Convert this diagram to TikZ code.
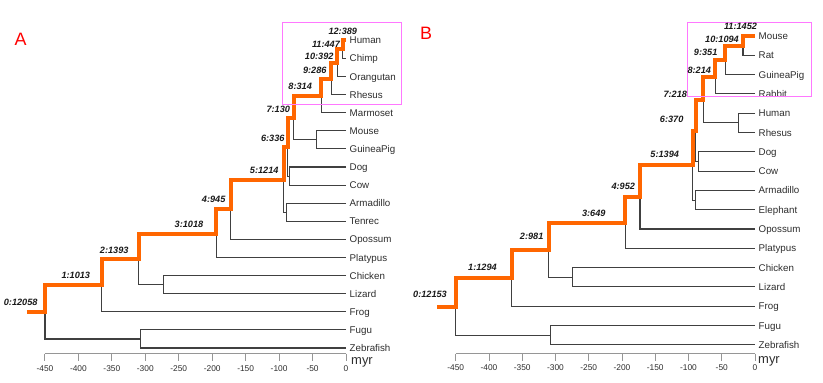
\documentclass[tikz,border=0pt]{standalone}
\usepackage{fontspec}
\setmainfont{Liberation Sans}
\definecolor{linegray}{RGB}{64,64,64}
\definecolor{axisgray}{RGB}{150,150,150}
\definecolor{hlorange}{RGB}{255,102,0}
\definecolor{leafgray}{RGB}{45,45,45}
\definecolor{boxpink}{RGB}{255,120,255}
\tikzset{
  br/.style={draw=linegray, line width=1.1bp},
  hl/.style={draw=hlorange, line width=4bp, line join=miter},
  axisline/.style={draw=axisgray, line width=1bp},
  leaf/.style={anchor=base west, inner sep=0pt, xshift=3.5bp, yshift=-3.5bp, text=leafgray, font=\fontsize{9.8}{11}\selectfont},
  nlab/.style={inner sep=0pt, text=black!90, font=\fontsize{9.2}{11}\selectfont\bfseries\itshape},
  ticklab/.style={inner sep=0pt, text=leafgray, font=\fontsize{8.4}{10}\selectfont},
  myrlab/.style={inner sep=0pt, text=leafgray, font=\fontsize{13}{15}\selectfont},
  panel/.style={inner sep=0pt, text=red, font=\fontsize{18}{20}\selectfont},
  hbox/.style={draw=boxpink, line width=1bp}
}
\newcommand\myleaf[3]{\coordinate (#1) at (0,#2); \node[leaf] (#1-t) at (#1) {#3};}
\newcommand\myclade[3]{\draw[br] (#2) -| (#1) |- (#3);}
\begin{document}
\begin{tikzpicture}[x=1bp,y=-1bp]
\useasboundingbox (0,0) rectangle (823,382);
% ================= Panel A =================
\begin{scope}[xshift=346bp, x=0.669bp]
\myleaf{A-Human}{40.3}{Human}
\myleaf{A-Chimp}{58.4}{Chimp}
\myleaf{A-Orangutan}{76.5}{Orangutan}
\myleaf{A-Rhesus}{94.6}{Rhesus}
\myleaf{A-Marmoset}{112.7}{Marmoset}
\myleaf{A-Mouse}{130.8}{Mouse}
\myleaf{A-GuineaPig}{148.9}{GuineaPig}
\myleaf{A-Dog}{167.0}{Dog}
\myleaf{A-Cow}{185.1}{Cow}
\myleaf{A-Armadillo}{203.2}{Armadillo}
\myleaf{A-Tenrec}{221.3}{Tenrec}
\myleaf{A-Opossum}{239.4}{Opossum}
\myleaf{A-Platypus}{257.5}{Platypus}
\myleaf{A-Chicken}{275.6}{Chicken}
\myleaf{A-Lizard}{293.7}{Lizard}
\myleaf{A-Frog}{311.8}{Frog}
\myleaf{A-Fugu}{329.9}{Fugu}
\myleaf{A-Zebrafish}{348.0}{Zebrafish}
\coordinate (A-n11) at (-5,49.35);
\coordinate (A-n10) at (-13,62.93);
\coordinate (A-n9) at (-22,78.76);
\coordinate (A-n8) at (-37,95.73);
\coordinate (A-MG) at (-44,139.85);
\coordinate (A-n7) at (-78,117.79);
\coordinate (A-DC) at (-84,176.05);
\coordinate (A-n6) at (-87,146.92);
\coordinate (A-AT) at (-89,212.25);
\coordinate (A-n5) at (-93,179.59);
\coordinate (A-n4) at (-172,209.49);
\coordinate (A-n3) at (-194,233.5);
\coordinate (A-CL) at (-273,284.65);
\coordinate (A-n2) at (-310,259.08);
\coordinate (A-n1) at (-365,285.44);
\coordinate (A-FZ) at (-307,338.95);
\coordinate (A-n0) at (-450,312.2);
\coordinate (A-stub) at (-477,312.2);
\myclade{A-n11}{A-Human}{A-Chimp}
\myclade{A-n10}{A-n11}{A-Orangutan}
\myclade{A-n9}{A-n10}{A-Rhesus}
\myclade{A-n8}{A-n9}{A-Marmoset}
\myclade{A-MG}{A-Mouse}{A-GuineaPig}
\myclade{A-n7}{A-n8}{A-MG}
\myclade{A-DC}{A-Dog}{A-Cow}
\myclade{A-n6}{A-n7}{A-DC}
\myclade{A-AT}{A-Armadillo}{A-Tenrec}
\myclade{A-n5}{A-n6}{A-AT}
\myclade{A-n4}{A-n5}{A-Opossum}
\myclade{A-n3}{A-n4}{A-Platypus}
\myclade{A-CL}{A-Chicken}{A-Lizard}
\myclade{A-n2}{A-n3}{A-CL}
\myclade{A-n1}{A-n2}{A-Frog}
\myclade{A-FZ}{A-Fugu}{A-Zebrafish}
\myclade{A-n0}{A-n1}{A-FZ}
\draw[hl] (A-stub) -- (A-n0) |- (A-n1) |- (A-n2) |- (A-n3) |- (A-n4) |- (A-n5) |- (A-n6) |- (A-n7) |- (A-n8) |- (A-n9) |- (A-n10) |- (A-n11) |- (A-Human);
% axis
\coordinate (A-ax0) at (-450,353.5);
\coordinate (A-ax1) at (0,353.5);
\draw[axisline] (A-ax0) -- (A-ax1);
\foreach \t [count=\i] in {-450,-400,...,0}{
  \draw[axisline] (\t,353.5) -- (\t,361);
  \node[ticklab] (A-tick\i) at (\t,368.3) {\t};
}
\end{scope}
\node[myrlab] (A-myr) at (362,362.5) {myr};
\node[panel] (A-title) at (20.5,39.5) {A};
\draw[hbox] (282.7,22.3) rectangle (401.7,104.3);
\node[nlab] (A-l0) at (20.7,302.7) {0:12058};
\node[nlab] (A-l1) at (75.8,275) {1:1013};
\node[nlab] (A-l2) at (114.2,250.3) {2:1393};
\node[nlab] (A-l3) at (189,224.3) {3:1018};
\node[nlab] (A-l4) at (213.7,199.3) {4:945};
\node[nlab] (A-l5) at (264.2,170) {5:1214};
\node[nlab] (A-l6) at (272.8,138.3) {6:336};
\node[nlab] (A-l7) at (278.3,109) {7:130};
\node[nlab] (A-l8) at (300.2,86.7) {8:314};
\node[nlab] (A-l9) at (314.8,70.7) {9:286};
\node[nlab] (A-l10) at (319.2,56.7) {10:392};
\node[nlab] (A-l11) at (326,44.3) {11:447};
\node[nlab] (A-l12) at (342.8,31) {12:389};
% ================= Panel B =================
\begin{scope}[xshift=755bp, x=0.665bp]
\myleaf{B-Mouse}{36}{Mouse}
\myleaf{B-Rat}{55.3}{Rat}
\myleaf{B-GuineaPig}{74.6}{GuineaPig}
\myleaf{B-Rabbit}{93.9}{Rabbit}
\myleaf{B-Human}{113.2}{Human}
\myleaf{B-Rhesus}{132.5}{Rhesus}
\myleaf{B-Dog}{151.8}{Dog}
\myleaf{B-Cow}{171.1}{Cow}
\myleaf{B-Armadillo}{190.4}{Armadillo}
\myleaf{B-Elephant}{209.7}{Elephant}
\myleaf{B-Opossum}{229}{Opossum}
\myleaf{B-Platypus}{248.3}{Platypus}
\myleaf{B-Chicken}{267.6}{Chicken}
\myleaf{B-Lizard}{286.9}{Lizard}
\myleaf{B-Frog}{306.2}{Frog}
\myleaf{B-Fugu}{325.5}{Fugu}
\myleaf{B-Zebrafish}{344.8}{Zebrafish}
\coordinate (B-n10) at (-18,45.65);
\coordinate (B-n9) at (-45,60.13);
\coordinate (B-n8) at (-60,77.01);
\coordinate (B-HR) at (-25,122.85);
\coordinate (B-n7) at (-78,99.93);
\coordinate (B-DC) at (-85,161.45);
\coordinate (B-n6) at (-89,130.69);
\coordinate (B-AE) at (-90,200.05);
\coordinate (B-n5) at (-94,165.37);
\coordinate (B-n4) at (-173,197.19);
\coordinate (B-n3) at (-195,222.74);
\coordinate (B-CL) at (-274,277.25);
\coordinate (B-n2) at (-310,250);
\coordinate (B-n1) at (-366,278.1);
\coordinate (B-FZ) at (-307,335.15);
\coordinate (B-n0) at (-450,306.63);
\coordinate (B-stub) at (-478,306.63);
\myclade{B-n10}{B-Mouse}{B-Rat}
\myclade{B-n9}{B-n10}{B-GuineaPig}
\myclade{B-n8}{B-n9}{B-Rabbit}
\myclade{B-HR}{B-Human}{B-Rhesus}
\myclade{B-n7}{B-n8}{B-HR}
\myclade{B-DC}{B-Dog}{B-Cow}
\myclade{B-n6}{B-n7}{B-DC}
\myclade{B-AE}{B-Armadillo}{B-Elephant}
\myclade{B-n5}{B-n6}{B-AE}
\myclade{B-n4}{B-n5}{B-Opossum}
\myclade{B-n3}{B-n4}{B-Platypus}
\myclade{B-CL}{B-Chicken}{B-Lizard}
\myclade{B-n2}{B-n3}{B-CL}
\myclade{B-n1}{B-n2}{B-Frog}
\myclade{B-FZ}{B-Fugu}{B-Zebrafish}
\myclade{B-n0}{B-n1}{B-FZ}
\draw[hl] (B-stub) -- (B-n0) |- (B-n1) |- (B-n2) |- (B-n3) |- (B-n4) |- (B-n5) |- (B-n6) |- (B-n7) |- (B-n8) |- (B-n9) |- (B-n10) |- (B-Mouse);
\coordinate (B-ax0) at (-450,353.5);
\coordinate (B-ax1) at (0,353.5);
\draw[axisline] (B-ax0) -- (B-ax1);
\foreach \t [count=\i] in {-450,-400,...,0}{
  \draw[axisline] (\t,353.5) -- (\t,361);
  \node[ticklab] (B-tick\i) at (\t,367.8) {\t};
}
\end{scope}
\node[myrlab] (B-myr) at (769,361.5) {myr};
\node[panel] (B-title) at (426,33.3) {B};
\draw[hbox] (687.7,22.7) rectangle (811,96.7);
\node[nlab] (B-l0) at (430,294.3) {0:12153};
\node[nlab] (B-l1) at (482.5,267.3) {1:1294};
\node[nlab] (B-l2) at (531.7,236.7) {2:981};
\node[nlab] (B-l3) at (593.8,213.3) {3:649};
\node[nlab] (B-l4) at (623.3,186.7) {4:952};
\node[nlab] (B-l5) at (664.7,154) {5:1394};
\node[nlab] (B-l6) at (671.7,119.3) {6:370};
\node[nlab] (B-l7) at (675.3,94.3) {7:218};
\node[nlab] (B-l8) at (699.3,70) {8:214};
\node[nlab] (B-l9) at (705.7,52.3) {9:351};
\node[nlab] (B-l10) at (722,39.3) {10:1094};
\node[nlab] (B-l11) at (740.5,26.7) {11:1452};
\end{tikzpicture}
\end{document}
